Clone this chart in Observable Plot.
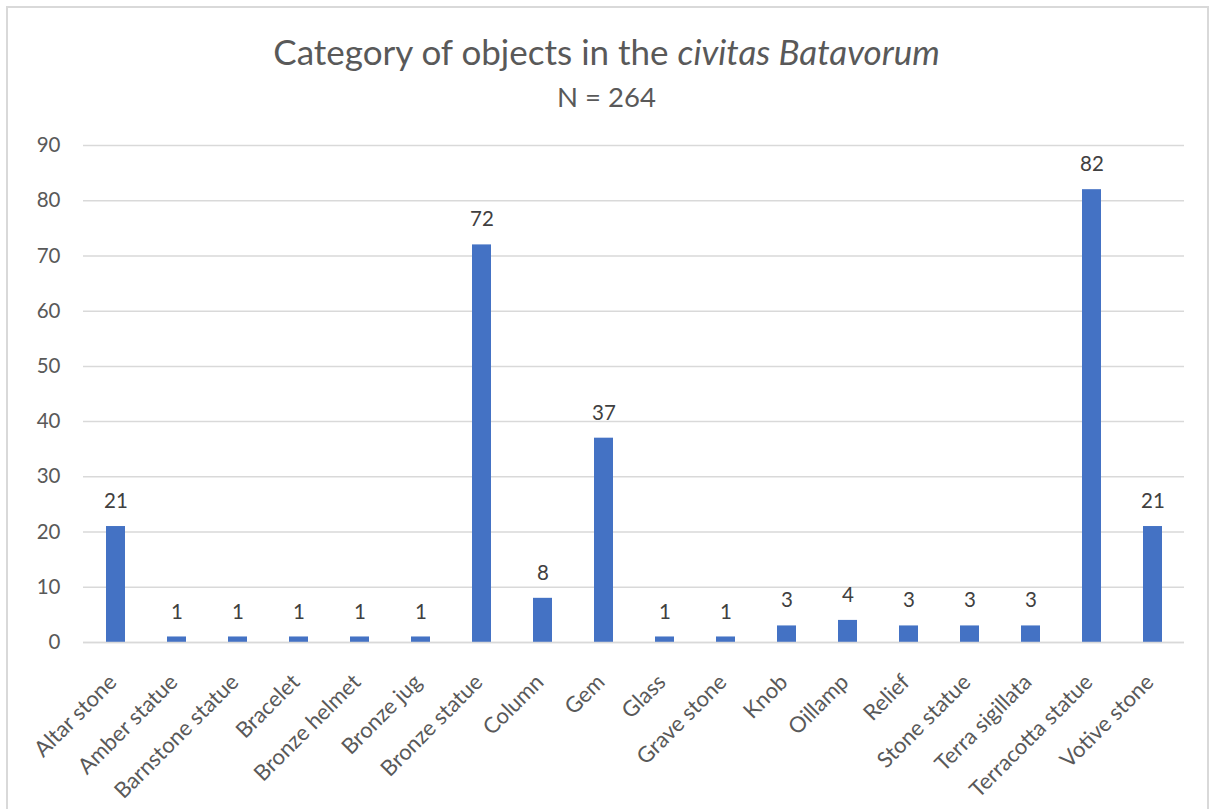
<!DOCTYPE html>
<html><head><meta charset="utf-8">
<script src="https://cdn.jsdelivr.net/npm/d3@7"></script>
<script src="https://cdn.jsdelivr.net/npm/@observablehq/plot@0.6"></script>
<style>
body{margin:0;background:#fff;font-family:Lato,"Open Sans",sans-serif;}
#frame{position:absolute;left:6px;top:6px;width:1203px;height:810px;border:2px solid #d9d9d9;box-sizing:border-box;}
#title{position:absolute;left:0;width:1213px;top:30px;text-align:center;font-size:35px;color:#595959;line-height:1.2;}
#sub{position:absolute;left:0;width:1213px;top:80px;text-align:center;font-size:27.5px;color:#595959;line-height:1.2;}
#chart{position:absolute;left:0;top:0;}
</style></head><body>
<div id="frame"></div>
<div id="chart"></div>
<div id="title">Category of objects in the <i>civitas Batavorum</i></div>
<div id="sub">N = 264</div>
<script>
const categories = ["Altar stone","Amber statue","Barnstone statue","Bracelet","Bronze helmet","Bronze jug","Bronze statue","Column","Gem","Glass","Grave stone","Knob","Oillamp","Relief","Stone statue","Terra sigillata","Terracotta statue","Votive stone"];
const counts = [21,1,1,1,1,1,72,8,37,1,1,3,4,3,3,3,82,21];
const yTicks = [0,10,20,30,40,50,60,70,80,90];
const data = categories.map((c,i)=>({category:c,count:counts[i]}));
const chart = Plot.plot({
  width:1213, height:809,
  marginLeft:83, marginRight:29, marginTop:145, marginBottom:167,
  style:{fontFamily:"Lato, 'Open Sans', sans-serif", color:"#595959", background:"transparent"},
  x:{domain:categories, paddingInner:0.69, paddingOuter:0.345, label:null},
  y:{domain:[0,90], label:null},
  marks:[
    Plot.gridY(yTicks,{stroke:"#d9d9d9", strokeOpacity:1, strokeWidth:1.5}),
    Plot.axisY(yTicks,{tickSize:0, tickPadding:23, fontSize:20.5, fill:"#595959", label:null}),
    Plot.axisX({tickSize:0, tickRotate:-45, tickPadding:36, dx:-3, fontSize:22, fill:"#595959", label:null}),
    Plot.barY(data,{x:"category", y:"count", fill:"#4472c4"}),
    Plot.ruleY([0],{stroke:"#d9d9d9", strokeWidth:1.5}),
    Plot.text(data,{x:"category", y:"count", text:d=>String(d.count), dy:-25, fontSize:20.5, fill:"#404040", lineAnchor:"middle"})
  ]
});
document.getElementById("chart").appendChild(chart);
</script>
</body></html>
